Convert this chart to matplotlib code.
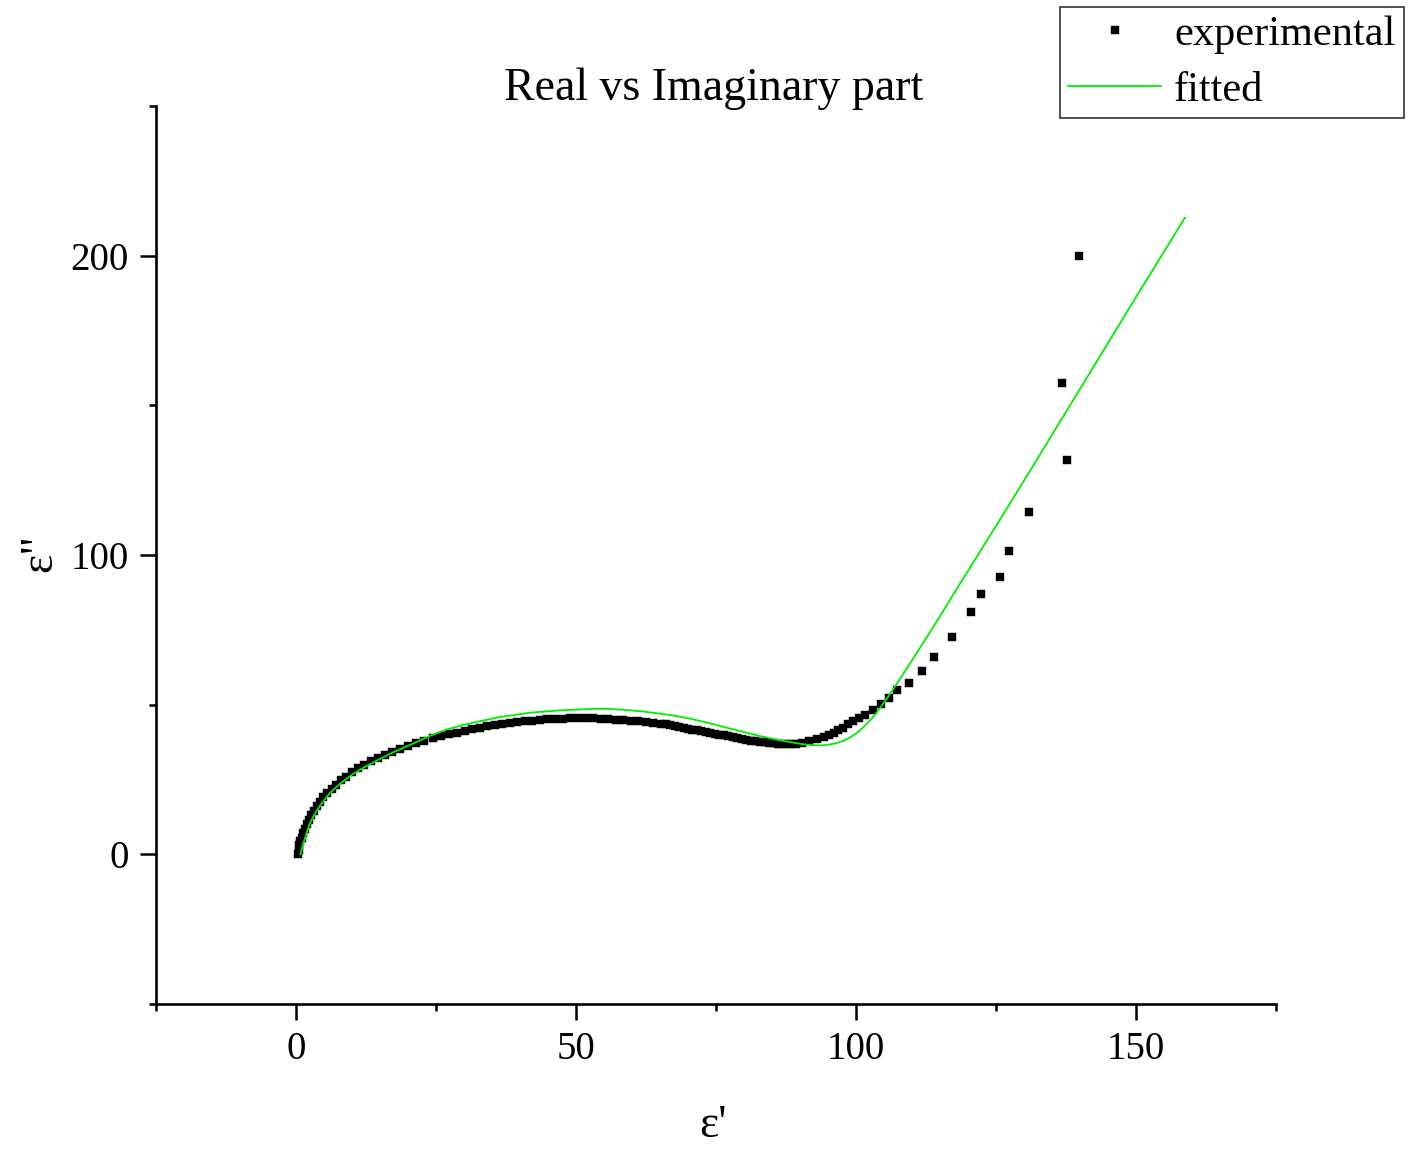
import matplotlib
matplotlib.use("Agg")
import matplotlib.pyplot as plt
from matplotlib.lines import Line2D

plt.rcParams['font.family'] = ['Liberation Serif', 'DejaVu Serif']

# experimental data (eps', eps'')
exp_real = [0.4, 0.5, 0.6, 0.8, 1.0, 1.3, 1.6, 1.9, 2.3, 2.7, 3.2, 3.7, 4.3, 4.9, 5.6, 6.4,
            7.2, 8.1, 9.0, 10.0, 11.1, 12.2, 13.4, 14.6, 15.9, 17.2, 18.6, 20.0, 21.4, 22.9,
            24.4, 25.9, 27.4, 28.8, 30.1, 31.4, 32.8, 34.1, 35.5, 36.8, 38.2, 39.5, 40.9,
            42.2, 43.6, 44.9, 46.3, 47.6, 49.0, 50.3, 51.7, 53.0, 54.4, 55.7, 57.1, 58.4,
            59.8, 61.1, 62.5, 63.8, 65.2, 66.0, 66.8, 67.6, 68.4, 69.2, 70.0, 70.8, 71.6,
            72.4, 73.2, 74.0, 74.8, 75.6, 76.4, 77.2, 78.0, 78.8, 79.6, 80.4, 81.2, 82.0,
            82.8, 83.6, 84.4, 85.2, 86.0, 86.8, 87.6, 88.4, 89.2, 90.3, 91.6, 93.0, 94.2,
            95.1, 96.0, 96.8, 97.7, 98.6, 99.5, 100.6, 101.6, 103.0, 104.5, 105.9, 107.4,
            109.5, 111.7, 113.9, 117.1, 120.6, 122.3, 125.7, 127.4, 130.9, 137.6, 136.7,
            139.9]
exp_imag = [0.0, 1.5, 3.0, 4.3, 5.5, 7.0, 8.5, 10.0, 11.5, 13.0, 14.6, 16.0, 17.5, 19.0,
            20.4, 21.9, 23.3, 24.7, 26.0, 27.4, 28.7, 29.9, 31.1, 32.2, 33.3, 34.3, 35.3,
            36.2, 37.1, 37.9, 38.7, 39.4, 40.1, 40.7, 41.3, 41.8, 42.3, 42.8, 43.2, 43.6,
            43.9, 44.2, 44.5, 44.7, 44.9, 45.1, 45.2, 45.3, 45.4, 45.4, 45.4, 45.4, 45.3,
            45.2, 45.0, 44.9, 44.7, 44.5, 44.3, 44.0, 43.7, 43.4, 43.1, 42.9, 42.6, 42.3,
            42.0, 41.7, 41.4, 41.2, 40.9, 40.6, 40.3, 40.0, 39.7, 39.4, 39.1, 38.8, 38.5,
            38.2, 38.0, 37.8, 37.6, 37.4, 37.2, 37.1, 37.0, 36.9, 36.8, 36.7, 36.7, 37.2,
            37.8, 38.6, 39.2, 39.8, 40.6, 41.4, 42.3, 43.4, 44.4, 45.6, 46.7, 48.1, 50.1,
            52.1, 54.8, 57.1, 61.1, 65.8, 72.5, 80.8, 87.1, 92.8, 101.5, 114.2, 131.7,
            157.4, 200.0]

# fitted curve (eps', eps'')
fit_real = [0.8, 1.2, 1.8, 2.5, 3.5, 4.7, 6.1, 8.0, 10.0, 12.0, 14.5, 17.5, 20.9, 23.8,
            26.9, 29.8, 32.9, 36.5, 41.8, 47.1, 50.7, 53.1, 56.0, 59.1, 62.0, 65.0, 68.0,
            70.9, 73.9, 76.9, 79.9, 82.9, 85.9, 88.8, 90.5, 92.0, 93.6, 95.0, 96.4, 97.7,
            98.8, 99.8, 100.7, 101.9, 103.1, 104.3, 105.5, 106.7, 108.4, 110.0, 111.5,
            113.0, 114.4, 116.0, 117.8, 119.7, 121.6, 124.2, 126.9, 132.8, 138.8, 144.8,
            150.7, 158.75]
fit_imag = [0.0, 3.0, 6.5, 10.5, 14.0, 17.3, 20.6, 23.8, 26.6, 28.9, 31.4, 34.2, 37.0,
            39.5, 41.7, 43.2, 44.5, 45.9, 47.3, 48.1, 48.4, 48.6, 48.6, 48.2, 47.7, 47.0,
            46.2, 45.1, 43.8, 42.3, 40.9, 39.5, 38.3, 37.3, 36.8, 36.5, 36.4, 36.6, 37.1,
            37.9, 38.9, 40.1, 41.4, 43.5, 46.0, 48.9, 52.0, 55.3, 60.2, 64.8, 69.2, 73.6,
            77.8, 82.6, 88.1, 93.8, 99.5, 107.3, 115.4, 133.4, 151.8, 170.2, 188.3, 212.7]

x_ticks = [0, 50, 100, 150]
y_ticks = [0, 100, 200]
x_minor = [-25, 25, 75, 125, 175]
y_minor = [-50, 50, 150, 250]

GREEN = '#00ee00'

fig = plt.figure(figsize=(14.09, 11.5), dpi=100)
ax = fig.add_axes([156/1409, 1 - 1004/1150, (1276-156)/1409, (1004-106)/1150])

ax.plot(exp_real, exp_imag, linestyle='none', marker='s', markersize=5.5,
        markeredgewidth=0.3, color='black', zorder=2)
ax.plot(fit_real, fit_imag, color=GREEN, linewidth=1.3, zorder=3)

ax.set_xlim(-25, 175)
ax.set_ylim(-50, 250)
ax.set_xticks(x_ticks)
ax.set_yticks(y_ticks)
ax.set_xticks(x_minor, minor=True)
ax.set_yticks(y_minor, minor=True)

for s in ['top', 'right']:
    ax.spines[s].set_visible(False)
for s in ['left', 'bottom']:
    ax.spines[s].set_linewidth(1.9)

ax.tick_params(which='major', direction='out', length=11.5, width=1.8,
               labelsize=28, pad=8)
ax.tick_params(which='minor', direction='out', length=5, width=1.8)

fig.text(714/1409, 1 - 89/1150, 'Real vs Imaginary part', fontsize=33,
         ha='center', va='center')
fig.text(713/1409, 1 - 1126/1150, "ε'", fontsize=33, ha='center', va='center')
fig.text(40/1409, 1 - 553/1150, 'ε"', fontsize=33, ha='center', va='center',
         rotation=90)

handles = [Line2D([], [], linestyle='none', marker='s', markersize=5.5,
                  markeredgewidth=0.3, color='black'),
           Line2D([], [], color=GREEN, linewidth=1.3)]
leg = fig.legend(handles, ['experimental', 'fitted'], loc='upper right',
                 bbox_to_anchor=(1404/1409, 1 - 7/1150), fontsize=30.5,
                 frameon=True, fancybox=False, edgecolor='black',
                 borderaxespad=0, handlelength=2.2, handletextpad=0.3,
                 borderpad=0.2, labelspacing=0.4)
leg.get_frame().set_linewidth(1.2)

fig.savefig('out.png', dpi=100)
